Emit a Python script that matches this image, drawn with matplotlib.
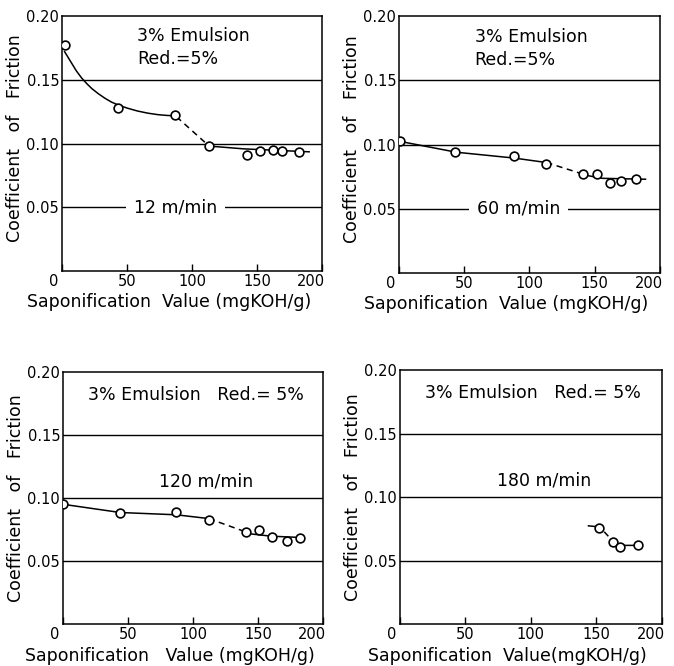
import matplotlib
matplotlib.use("Agg")
import matplotlib.pyplot as plt
import matplotlib.transforms as mtransforms

plt.rcParams['font.family'] = ['DejaVu Sans']

# ---------------- data ----------------
speeds = ["12 m/min", "60 m/min", "120 m/min", "180 m/min"]

sap_12 = [2, 43, 87, 113, 142, 152, 162, 169, 182]
cof_12 = [0.177, 0.128, 0.122, 0.098, 0.091, 0.094, 0.095, 0.094, 0.093]

sap_60 = [1, 43, 88, 113, 141, 152, 162, 170, 182]
cof_60 = [0.103, 0.094, 0.091, 0.085, 0.077, 0.077, 0.070, 0.072, 0.073]

sap_120 = [0, 44, 87, 112, 141, 151, 161, 172, 182]
cof_120 = [0.095, 0.088, 0.089, 0.083, 0.073, 0.075, 0.069, 0.066, 0.068]

sap_180 = [152, 163, 168, 182]
cof_180 = [0.076, 0.065, 0.061, 0.062]

# fitted trend lines drawn in the original (solid / dashed pieces)
fit12_solid_a_x = [2, 5, 8, 11, 15, 19, 23, 28, 33, 38, 43, 50, 58, 66, 74, 81, 86]
fit12_solid_a_y = [0.172, 0.167, 0.162, 0.157, 0.1515, 0.147, 0.143, 0.139, 0.1355,
                   0.1325, 0.1303, 0.1278, 0.1255, 0.1238, 0.1226, 0.122, 0.1218]
fit12_dash_x = [88, 112]
fit12_dash_y = [0.121, 0.099]
fit12_solid_b_x = [113, 140, 190]
fit12_solid_b_y = [0.098, 0.0958, 0.0935]

fit60_solid_a_x = [3, 44, 88, 113]
fit60_solid_a_y = [0.102, 0.094, 0.0895, 0.086]
fit60_dash_x = [113, 141]
fit60_dash_y = [0.086, 0.077]
fit60_solid_b_x = [141, 156, 189]
fit60_solid_b_y = [0.0765, 0.0737, 0.073]

fit120_solid_a_x = [1, 44, 87, 112]
fit120_solid_a_y = [0.095, 0.0886, 0.0868, 0.0838]
fit120_dash_x = [112, 141]
fit120_dash_y = [0.0838, 0.073]
fit120_solid_b_x = [141, 160, 182]
fit120_solid_b_y = [0.072, 0.0698, 0.0688]

fit180_solid_a_x = [144, 152]
fit180_solid_a_y = [0.0774, 0.0766]
fit180_dash_x = [156, 163]
fit180_dash_y = [0.0727, 0.065]
fit180_solid_b_x = [163, 168, 182]
fit180_solid_b_y = [0.064, 0.062, 0.062]

x_ticks = [0, 50, 100, 150, 200]
x_tick_labels = ["0", "50", "100", "150", "200"]
y_ticks = [0.05, 0.10, 0.15, 0.20]
y_tick_labels = ["0.05", "0.10", "0.15", "0.20"]

# ---------------- figure ----------------
fig = plt.figure(figsize=(6.74, 6.66), dpi=100)

rects = [
    [0.092, 0.593, 0.386, 0.383],
    [0.592, 0.590, 0.387, 0.386],
    [0.0935, 0.063, 0.386, 0.378],
    [0.593, 0.063, 0.389, 0.381],
]

panels = [
    (sap_12, cof_12, fit12_solid_a_x, fit12_solid_a_y, fit12_dash_x, fit12_dash_y,
     fit12_solid_b_x, fit12_solid_b_y),
    (sap_60, cof_60, fit60_solid_a_x, fit60_solid_a_y, fit60_dash_x, fit60_dash_y,
     fit60_solid_b_x, fit60_solid_b_y),
    (sap_120, cof_120, fit120_solid_a_x, fit120_solid_a_y, fit120_dash_x, fit120_dash_y,
     fit120_solid_b_x, fit120_solid_b_y),
    (sap_180, cof_180, fit180_solid_a_x, fit180_solid_a_y, fit180_dash_x, fit180_dash_y,
     fit180_solid_b_x, fit180_solid_b_y),
]

xlabels = ["Saponification  Value (mgKOH/g)",
           "Saponification  Value (mgKOH/g)",
           "Saponification   Value (mgKOH/g)",
           "Saponification  Value(mgKOH/g)"]

tick_fs = 10.5
label_fs = 12.5
text_fs = 12.5
lw_axis = 1.1

for i, (rect, p) in enumerate(zip(rects, panels)):
    ax = fig.add_axes(rect)
    sx, sy, ax_x, ax_y, dx, dy, bx, by = p
    ax.set_xlim(0, 200)
    ax.set_ylim(0, 0.20)

    for gy in y_ticks[:-1]:
        ax.axhline(gy, color="black", lw=1.0, zorder=1)

    ax.plot(ax_x, ax_y, color="black", lw=1.1, zorder=2)
    ax.plot(dx, dy, color="black", lw=1.1, ls=(0, (4, 3)), zorder=2)
    ax.plot(bx, by, color="black", lw=1.1, zorder=2)
    ax.plot(sx, sy, ls="none", marker="o", ms=6.3, mfc="white", mec="black",
            mew=1.2, zorder=4)

    for s in ax.spines.values():
        s.set_linewidth(lw_axis)

    ax.set_xticks(x_ticks)
    ax.set_xticklabels(x_tick_labels, fontsize=tick_fs)
    ax.tick_params(axis="x", direction="in", length=5, width=1.0, pad=2)
    ax.set_yticks(y_ticks)
    ax.set_yticklabels(y_tick_labels, fontsize=tick_fs)
    ax.tick_params(axis="y", direction="out", length=0, pad=2)

    # shift the end labels as in the original
    xl = ax.get_xticklabels()
    xl[0].set_transform(xl[0].get_transform() +
                        mtransforms.ScaledTranslation(-8 / 100, 0, fig.dpi_scale_trans))
    xl[-1].set_transform(xl[-1].get_transform() +
                         mtransforms.ScaledTranslation(-11 / 100, 0, fig.dpi_scale_trans))

    ax.set_xlabel(xlabels[i], fontsize=label_fs, labelpad=0)
    ax.xaxis.set_label_coords(0.41, -0.085 if i < 2 else -0.09)
    ax.set_ylabel("Coefficient   of   Friction", fontsize=label_fs)
    ax.yaxis.set_label_coords(-0.145, 0.52 if i < 2 else 0.5)

    if i < 2:
        ax.text(58, 0.184, "3% Emulsion", fontsize=text_fs, va="center", ha="left")
        ax.text(58, 0.166, "Red.=5%", fontsize=text_fs, va="center", ha="left")
        cx = 87 if i == 0 else 92
        ax.text(cx, 0.05, speeds[i], fontsize=text_fs, va="center", ha="center",
                zorder=3,
                bbox=dict(boxstyle="square,pad=0.45", fc="white", ec="none"))
    else:
        ax.text(19, 0.182, "3% Emulsion   Red.= 5%", fontsize=text_fs,
                va="center", ha="left")
        ax.text(110, 0.113, speeds[i], fontsize=text_fs, va="center", ha="center")

fig.savefig("out.png", dpi=100)
